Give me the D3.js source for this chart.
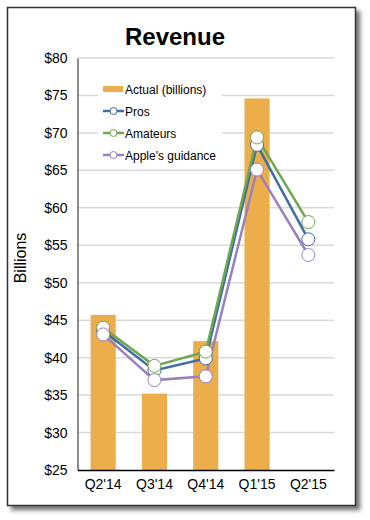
<!DOCTYPE html>
<html>
<head>
<meta charset="utf-8">
<script src="https://cdn.jsdelivr.net/npm/d3@7"></script>
<style>
  body { margin: 0; background: #fff; }
  text { font-family: "Liberation Sans", Arial, sans-serif; }
</style>
</head>
<body>
<div id="chart"></div>
<script>
// chart data
var quarters = ["Q2'14", "Q3'14", "Q4'14", "Q1'15", "Q2'15"];
var actual = [45.7, 35.2, 42.2, 74.6, null];
var pros = [43.6, 38.3, 39.9, 68.4, 55.8];
var amateurs = [44.0, 38.9, 40.8, 69.4, 58.1];
var guidance = [43.1, 37.0, 37.5, 65.1, 53.7];
var yTicks = [25, 30, 35, 40, 45, 50, 55, 60, 65, 70, 75, 80];

var series = [
  {name: "Pros", values: pros, color: "#3d6ea5"},
  {name: "Amateurs", values: amateurs, color: "#6fa64f"},
  {name: "Apple's guidance", values: guidance, color: "#9a80bd"}
];
var barColor = "#ebae4b";

var margin = {top: 58, right: 36, bottom: 50, left: 77.5},
    width = 370 - margin.left - margin.right,
    height = 520 - margin.top - margin.bottom;

var root = d3.select("#chart")
  .append("svg")
  .attr("width", 370)
  .attr("height", 520);

// frame with drop shadow
var defs = root.append("defs");
var f = defs.append("filter").attr("id", "shadow")
  .attr("x", "-5%").attr("y", "-5%").attr("width", "115%").attr("height", "115%");
f.append("feDropShadow")
  .attr("dx", 4).attr("dy", 4).attr("stdDeviation", 2)
  .attr("flood-color", "#000").attr("flood-opacity", 0.55);

root.append("rect")
  .attr("x", 7.5).attr("y", 7.5)
  .attr("width", 348).attr("height", 498)
  .attr("fill", "#fff")
  .attr("stroke", "#333")
  .attr("stroke-width", 1.5)
  .attr("filter", "url(#shadow)");

root.append("text")
  .attr("x", 175).attr("y", 45)
  .attr("text-anchor", "middle")
  .style("font-size", "24px")
  .style("font-weight", "bold")
  .text("Revenue");

var svg = root.append("g")
  .attr("transform", "translate(" + margin.left + "," + margin.top + ")");

var x = d3.scaleBand()
  .domain(quarters)
  .range([0, width])
  .paddingInner(0.51)
  .paddingOuter(0.255);

var y = d3.scaleLinear()
  .domain([25, 80])
  .range([height, 0]);

// gridlines
svg.append("g")
  .selectAll("line")
  .data(yTicks.slice(1))
  .enter()
  .append("line")
    .attr("x1", 0).attr("x2", width)
    .attr("y1", function(d) { return y(d); })
    .attr("y2", function(d) { return y(d); })
    .attr("stroke", "#d9d9d9")
    .attr("stroke-width", 1.5);

// y axis
var yAxis = svg.append("g")
  .call(d3.axisLeft(y).tickValues(yTicks).tickSize(0).tickPadding(10)
    .tickFormat(function(d) { return "$" + d; }));
yAxis.select(".domain").attr("stroke", "#666").attr("stroke-width", 1.5);
yAxis.selectAll("text")
  .style("font-size", "14px")
  .style("font-family", "Liberation Sans, Arial, sans-serif")
  .attr("fill", "#000");

root.append("text")
  .attr("transform", "rotate(-90)")
  .attr("x", -258)
  .attr("y", 26)
  .attr("text-anchor", "middle")
  .style("font-size", "16px")
  .text("Billions");

// bars
svg.append("g")
  .selectAll("rect")
  .data(quarters.filter(function(q, i) { return actual[i] != null; }))
  .enter()
  .append("rect")
    .attr("x", function(d) { return x(d); })
    .attr("width", x.bandwidth())
    .attr("y", function(d) { return y(actual[quarters.indexOf(d)]); })
    .attr("height", function(d) { return height - y(actual[quarters.indexOf(d)]); })
    .attr("fill", barColor);

// x axis
var xAxis = svg.append("g")
  .attr("transform", "translate(0," + height + ")")
  .call(d3.axisBottom(x).tickSize(0).tickPadding(9));
xAxis.select(".domain").attr("stroke", "#000").attr("stroke-width", 1.5);
xAxis.selectAll("text")
  .style("font-size", "14px")
  .style("font-family", "Liberation Sans, Arial, sans-serif")
  .attr("fill", "#000");

// lines + markers
var line = d3.line()
  .x(function(d, i) { return x(quarters[i]) + x.bandwidth() / 2; })
  .y(function(d) { return y(d); });

series.forEach(function(s) {
  svg.append("path")
    .datum(s.values)
    .attr("fill", "none")
    .attr("stroke", s.color)
    .attr("stroke-width", 2.5)
    .attr("d", line);
});
series.forEach(function(s) {
  svg.append("g")
    .selectAll("circle")
    .data(s.values)
    .enter()
    .append("circle")
      .attr("cx", function(d, i) { return x(quarters[i]) + x.bandwidth() / 2; })
      .attr("cy", function(d) { return y(d); })
      .attr("r", 6.5)
      .attr("fill", "#fff")
      .attr("stroke", s.color)
      .attr("stroke-width", 1);
});

// legend
var legend = root.append("g").attr("transform", "translate(98,78)");
legend.append("rect")
  .attr("x", 0).attr("y", 0)
  .attr("width", 124).attr("height", 88)
  .attr("fill", "#fff");

var legendItems = [{name: "Actual (billions)", color: barColor, bar: true}].concat(series);
var row = legend.selectAll("g.item")
  .data(legendItems)
  .enter()
  .append("g")
    .attr("class", "item")
    .attr("transform", function(d, i) { return "translate(0," + (11 + i * 22) + ")"; });

row.filter(function(d) { return d.bar; })
  .append("rect")
    .attr("x", 5).attr("y", -3)
    .attr("width", 20).attr("height", 6)
    .attr("fill", function(d) { return d.color; });

var lineRow = row.filter(function(d) { return !d.bar; });
lineRow.append("line")
  .attr("x1", 5).attr("x2", 26)
  .attr("y1", 0).attr("y2", 0)
  .attr("stroke", function(d) { return d.color; })
  .attr("stroke-width", 2.5);
lineRow.append("circle")
  .attr("cx", 15.5).attr("cy", 0).attr("r", 3.5)
  .attr("fill", "#fff")
  .attr("stroke", function(d) { return d.color; })
  .attr("stroke-width", 1);

row.append("text")
  .attr("x", 27).attr("y", 5)
  .style("font-size", "12px")
  .text(function(d) { return d.name; });
</script>
</body>
</html>
